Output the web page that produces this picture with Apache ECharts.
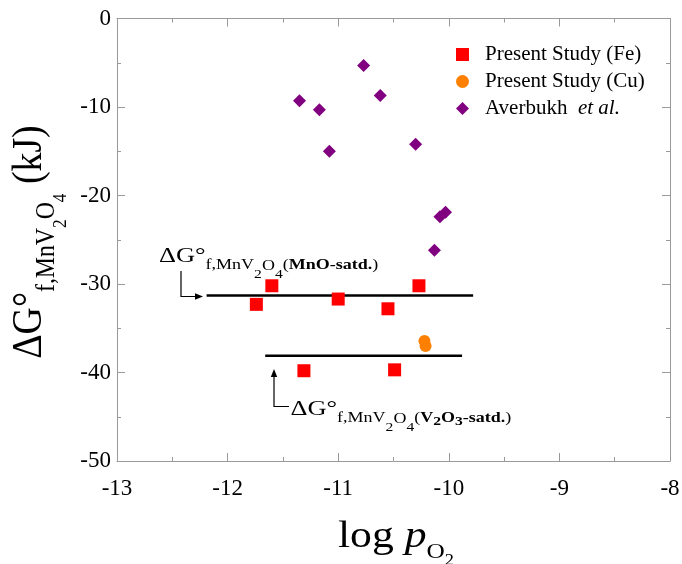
<!DOCTYPE html>
<html>
<head>
<meta charset="utf-8">
<script src="https://cdn.jsdelivr.net/npm/echarts@6/dist/echarts.min.js"></script>
<style>
  html, body { margin: 0; padding: 0; background: #fff; }
  #chart { width: 682px; height: 564px; }
</style>
</head>
<body>
<div id="chart"></div>
<script>
// Axis ranges
const xRange = [-13, -8];
const yRange = [-50, 0];

// Present study, Fe reference electrode
const feLogPO2 = [-11.74, -11.60, -11.00, -10.55, -10.27, -11.31, -10.49];
const feDeltaG = [-32.3, -30.2, -31.7, -32.8, -30.2, -39.8, -39.7];

// Present study, Cu reference electrode
const cuLogPO2 = [-10.22, -10.21];
const cuDeltaG = [-36.45, -37.0];

// Averbukh et al.
const avLogPO2 = [-11.35, -11.17, -11.08, -10.77, -10.62, -10.30, -10.03, -10.08, -10.13];
const avDeltaG = [-9.3, -10.3, -15.0, -5.3, -8.7, -14.2, -21.9, -22.4, -26.2];

// Average formation energies for the two saturation conditions
const mnoSatdLogPO2 = [-12.19, -9.78];
const mnoSatdDeltaG = -31.3;
const v2o3SatdLogPO2 = [-11.66, -9.88];
const v2o3SatdDeltaG = -38.1;

const serif = 'Liberation Serif';
const zip = (xs, ys) => xs.map((x, i) => [x, ys[i]]);

// --- small typesetting helper for labels with sub/superscripts ---
const mctx = document.createElement('canvas').getContext('2d');
function fontOf(p) {
  return (p.it ? 'italic ' : '') + (p.bd ? 'bold ' : '') + p.s + 'px "' + serif + '", serif';
}
// Lays out runs of text along one baseline (y = 0); `dy` lowers a run (subscripts).
function typeset(pieces, anchor) {
  let cx = 0;
  const items = pieces.map(p => {
    mctx.font = fontOf(p);
    const w = mctx.measureText(p.t).width;
    const it = { p, x: cx };
    cx += w;
    return it;
  });
  const shift = anchor === 'center' ? -cx / 2 : 0;
  return items.map(({ p, x }) => ({
    type: 'text',
    x: x + shift,
    y: (p.dy || 0) - 0.305 * p.s,
    style: { text: p.t, font: fontOf(p), fill: '#000', align: 'left', verticalAlign: 'middle' },
    silent: true
  }));
}

const chart = echarts.init(document.getElementById('chart'), null, { renderer: 'canvas' });

const axisCommon = {
  type: 'value',
  axisLine: { show: true, onZero: false, lineStyle: { color: '#999', width: 1 } },
  axisTick: { show: true, inside: true, length: 8, lineStyle: { color: '#999', width: 1 } },
  minorTick: { show: true, splitNumber: 2, length: 4, lineStyle: { color: '#999', width: 1 } },
  splitLine: { show: false },
  axisLabel: { fontFamily: serif, fontSize: 23, color: '#000', formatter: v => String(v) }
};

const subscriptMnV2O4 = [
  { t: 'f,MnV', s: 15, dy: 6.6 }, { t: '2', s: 13, dy: 16 },
  { t: 'O', s: 15, dy: 7.5 }, { t: '4', s: 13, dy: 16 }, { t: '(', s: 15, dy: 6.6 }
];

chart.setOption({
  animation: false,
  backgroundColor: '#fff',
  textStyle: { fontFamily: serif },
  grid: { left: 117, right: 12, top: 18.5, bottom: 103, containLabel: false, outerBoundsMode: 'none' },
  xAxis: [
    Object.assign({}, axisCommon, { min: xRange[0], max: xRange[1], interval: 1, position: 'bottom',
      axisLabel: Object.assign({}, axisCommon.axisLabel, { margin: 16 }) }),
    Object.assign({}, axisCommon, { min: xRange[0], max: xRange[1], interval: 1, position: 'top',
      axisLabel: { show: false } })
  ],
  yAxis: [
    Object.assign({}, axisCommon, { min: yRange[0], max: yRange[1], interval: 10, position: 'left',
      axisLabel: Object.assign({}, axisCommon.axisLabel, { margin: 6 }) }),
    Object.assign({}, axisCommon, { min: yRange[0], max: yRange[1], interval: 10, position: 'right',
      axisLabel: { show: false } })
  ],
  legend: {
    data: ['Present Study (Fe)', 'Present Study (Cu)', 'Averbukh et al.'],
    orient: 'vertical',
    left: 451, top: 39,
    itemWidth: 13, itemHeight: 13, itemGap: 6,
    selectedMode: false,
    formatter: name => name === 'Averbukh et al.' ? 'Averbukh  {i|et al.}' : name,
    textStyle: {
      fontFamily: serif, fontSize: 21, color: '#000', lineHeight: 20, padding: [0, 0, 0, 11],
      rich: { i: { fontFamily: serif, fontSize: 21, fontStyle: 'italic', color: '#000' } }
    }
  },
  series: [
    {
      name: 'MnO-satd.', type: 'line', data: zip(mnoSatdLogPO2, mnoSatdLogPO2.map(() => mnoSatdDeltaG)),
      symbol: 'none', lineStyle: { color: '#000', width: 2.5 }, silent: true, z: 1
    },
    {
      name: 'V2O3-satd.', type: 'line', data: zip(v2o3SatdLogPO2, v2o3SatdLogPO2.map(() => v2o3SatdDeltaG)),
      symbol: 'none', lineStyle: { color: '#000', width: 2.5 }, silent: true, z: 1
    },
    {
      name: 'Present Study (Fe)', type: 'scatter', data: zip(feLogPO2, feDeltaG),
      symbol: 'rect', symbolSize: 13, itemStyle: { color: '#ff0000', opacity: 1 }, z: 3
    },
    {
      name: 'Present Study (Cu)', type: 'scatter', data: zip(cuLogPO2, cuDeltaG),
      symbol: 'circle', symbolSize: 12, itemStyle: { color: '#ff8000', opacity: 1 }, z: 3
    },
    {
      name: 'Averbukh et al.', type: 'scatter', data: zip(avLogPO2, avDeltaG),
      symbol: 'diamond', symbolSize: 13, itemStyle: { color: '#800080', opacity: 1 }, z: 3
    }
  ],
  graphic: [
    // y-axis title, reading upwards; subscripts sit towards the axis
    {
      type: 'group', x: 43, y: 242, rotation: Math.PI / 2, scaleX: 1.08, scaleY: 1.2,
      children: typeset([
        { t: 'ΔG°', s: 35 }, { t: 'f,MnV', s: 22, dy: 10 }, { t: '2', s: 16, dy: 19.5 },
        { t: 'O', s: 22, dy: 10 }, { t: '4', s: 16, dy: 19.5 }, { t: ' (kJ)', s: 35 }
      ], 'center')
    },
    // x-axis title
    {
      type: 'group', x: 396, y: 549, scaleX: 1.15,
      children: typeset([
        { t: 'log ', s: 38 }, { t: 'p', s: 38, it: true }, { t: 'O', s: 22, dy: 10 }, { t: '2', s: 16, dy: 17 }
      ], 'center')
    },
    // MnO-saturated label and arrow
    {
      type: 'group', x: 159, y: 262.7, scaleX: 1.2,
      children: typeset([{ t: 'ΔG°', s: 22 }].concat(subscriptMnV2O4, [
        { t: 'MnO-satd.', s: 15, dy: 6.6, bd: true }, { t: ')', s: 15, dy: 6.6 }
      ]))
    },
    {
      type: 'polyline', shape: { points: [[181, 271], [181, 296.5], [197, 296.5]] },
      style: { stroke: '#000', lineWidth: 1.2, fill: null }, silent: true
    },
    {
      type: 'polygon', shape: { points: [[203, 296.5], [195, 293.3], [195, 299.7]] },
      style: { fill: '#000' }, silent: true
    },
    // V2O3-saturated label and arrow
    {
      type: 'group', x: 290.5, y: 416, scaleX: 1.2,
      children: typeset([{ t: 'ΔG°', s: 22 }].concat(subscriptMnV2O4, [
        { t: 'V', s: 15, dy: 6.6, bd: true }, { t: '2', s: 13, dy: 10, bd: true },
        { t: 'O', s: 15, dy: 6.6, bd: true }, { t: '3', s: 13, dy: 10, bd: true },
        { t: '-satd.', s: 15, dy: 6.6, bd: true }, { t: ')', s: 15, dy: 6.6 }
      ]))
    },
    {
      type: 'polyline', shape: { points: [[289, 406.5], [274, 406.5], [274, 376]] },
      style: { stroke: '#000', lineWidth: 1.2, fill: null }, silent: true
    },
    {
      type: 'polygon', shape: { points: [[274, 369], [270.8, 377], [277.2, 377]] },
      style: { fill: '#000' }, silent: true
    }
  ]
});
</script>
</body>
</html>
